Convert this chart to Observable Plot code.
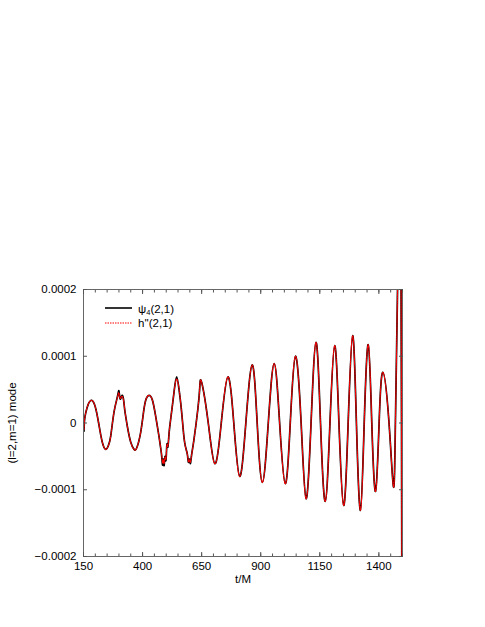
<!DOCTYPE html>
<html>
<head>
<meta charset="utf-8">
<script src="https://cdn.jsdelivr.net/npm/d3@7"></script>
<script src="https://cdn.jsdelivr.net/npm/@observablehq/plot@0.6"></script>
<style>
  html, body { margin: 0; padding: 0; background: #fff; }
  #wrap { position: relative; width: 485px; height: 627px; font-family: "Liberation Sans", Arial, Helvetica, sans-serif; }
  #legend { position: absolute; left: 0; top: 0; pointer-events: none; }
</style>
</head>
<body>
<div id="wrap">
  <div id="chart"></div>
  <svg id="legend" width="485" height="627" font-family="Liberation Sans, Arial, sans-serif" font-size="11.5">
    <line x1="105" x2="132" y1="308" y2="308" stroke="#000" stroke-width="1.6"></line>
    <text x="138" y="312.5">ψ<tspan font-size="7.5" dy="2">4</tspan><tspan dy="-2">(2,1)</tspan></text>
    <line x1="105" x2="132" y1="323" y2="323" stroke="#ff0000" stroke-width="1.1" stroke-dasharray="1.5,1"></line>
    <text x="138" y="327">h''(2,1)</text>
  </svg>
</div>
<script>
// time t/M
const t = [150, 152, 154, 160, 170, 185, 200, 214, 229, 244, 255, 265, 279, 294, 300, 305, 312, 319, 324, 329,
  336, 350, 364, 375, 392, 406, 416, 427, 441, 455,
  469, 476, 481, 485, 488, 491, 495, 499, 503, 507, 512, 519,
  533, 544, 554, 561, 568, 578, 589, 594, 598, 602, 607, 617, 634, 642, 650,
  678, 706, 733, 761, 786, 811, 837, 864, 885, 907, 932, 957, 980, 1004, 1025, 1047, 1071, 1092, 1113, 1134,
  1153, 1173, 1193, 1213, 1231, 1251, 1270, 1289, 1305, 1322, 1338, 1355, 1370, 1386, 1401, 1417, 1443, 1462, 1470, 1479,
  1487, 1494, 1497, 1500];
// psi_4 (2,1) mode
const psi4 = [-0.3e-5, -1.2e-5, 0.3e-5, 1.6e-5, 2.8e-5, 3.4e-5, 2.4e-5, 0, -2.8e-5, -3.95e-5, -3.4e-5, -2.0e-5, 1.6e-5, 4.0e-5, 4.8e-5, 3.6e-5, 4.1e-5, 3.6e-5, 2.1e-5, 0.9e-5,
  -0.6e-5, -2.9e-5, -3.95e-5, -3.75e-5, -1.4e-5, 2.1e-5, 3.7e-5, 4.15e-5, 3.5e-5, 1.1e-5,
  -1.9e-5, -3.6e-5, -5.0e-5, -6.3e-5, -5.4e-5, -6.4e-5, -5.0e-5, -5.6e-5, -3.2e-5, -3.6e-5, -1.6e-5, 0.6e-5,
  4.6e-5, 6.9e-5, 5.1e-5, 3.1e-5, 0.6e-5, -2.9e-5, -4.6e-5, -5.9e-5, -5.4e-5, -6.1e-5, -4.9e-5, -2.6e-5, 2.1e-5, 5.3e-5, 6.1e-5,
  0, -6.1e-5, 0, 6.9e-5, 0, -8.0e-5, 0, 8.7e-5, 0, -8.9e-5, 0, 8.9e-5, 0, -9.1e-5, 0, 10.0e-5, 0, -11.35e-5, 0, 12.1e-5,
  0, -11.75e-5, 0, 11.6e-5, 0, -12.35e-5, 0, 13.1e-5, 0, -13.1e-5, 0, 11.75e-5, 0, -10.25e-5, 0, 7.6e-5, 0, -9.6e-5, 0, 20e-5,
  35e-5, 20e-5, -20e-5, -40e-5];
// h'' (2,1) mode
const hdd = [-0.3e-5, -1.0e-5, 0.3e-5, 1.6e-5, 2.8e-5, 3.4e-5, 2.4e-5, 0, -2.8e-5, -3.95e-5, -3.4e-5, -2.0e-5, 1.6e-5, 3.9e-5, 4.5e-5, 3.7e-5, 4.0e-5, 3.5e-5, 2.2e-5, 0.9e-5,
  -0.6e-5, -2.9e-5, -3.95e-5, -3.75e-5, -1.4e-5, 2.1e-5, 3.7e-5, 4.15e-5, 3.5e-5, 1.1e-5,
  -1.9e-5, -3.6e-5, -4.9e-5, -6.0e-5, -5.5e-5, -6.1e-5, -5.1e-5, -5.4e-5, -3.3e-5, -3.5e-5, -1.6e-5, 0.6e-5,
  4.6e-5, 6.6e-5, 5.2e-5, 3.1e-5, 0.6e-5, -2.9e-5, -4.6e-5, -5.8e-5, -5.5e-5, -5.9e-5, -4.9e-5, -2.6e-5, 2.1e-5, 5.3e-5, 6.1e-5,
  0, -6.1e-5, 0, 6.9e-5, 0, -8.0e-5, 0, 8.7e-5, 0, -8.9e-5, 0, 8.9e-5, 0, -9.1e-5, 0, 10.0e-5, 0, -11.35e-5, 0, 12.1e-5,
  0, -11.75e-5, 0, 11.6e-5, 0, -12.35e-5, 0, 13.1e-5, 0, -13.1e-5, 0, 11.75e-5, 0, -10.25e-5, 0, 7.6e-5, 0, -9.6e-5, 0, 20e-5,
  35e-5, 20e-5, -20e-5, -40e-5];

const xTicks = [150, 400, 650, 900, 1150, 1400];
const xMinorTicks = [150, 200, 250, 300, 350, 400, 450, 500, 550, 600, 650, 700, 750, 800, 850, 900, 950, 1000,
  1050, 1100, 1150, 1200, 1250, 1300, 1350, 1400, 1450, 1500];
const yTicks = [-0.0002, -0.0001, 0, 0.0001, 0.0002];
const yTickLabels = ["−0.0002", "−0.0001", "0", "0.0001", "0.0002"];

const rows = t.map((tt, i) => ({t: tt, psi: psi4[i], h: hdd[i]}));
const tickColor = "#555";

const chart = Plot.plot({
  width: 485,
  height: 627,
  marginTop: 289,
  marginBottom: 71,
  marginLeft: 83,
  marginRight: 83,
  style: {fontFamily: '"Liberation Sans", Arial, Helvetica, sans-serif', fontSize: "11.5px", color: "#000", background: "#fff"},
  x: {domain: [150, 1500]},
  y: {domain: [-0.0002, 0.0002]},
  marks: [
    Plot.line(rows, {x: "t", y: "psi", stroke: "#000", strokeWidth: 1.7, curve: "natural", clip: true}),
    Plot.line(rows, {x: "t", y: "h", stroke: "#ff0000", strokeWidth: 1.1, strokeDasharray: "1.5,1", curve: "natural", clip: true}),
    Plot.frame({stroke: "#666"}),
    Plot.axisX(xMinorTicks, {anchor: "bottom", tickSize: -2.5, tickFormat: () => "", label: null, stroke: tickColor}),
    Plot.axisX(xMinorTicks, {anchor: "top", tickSize: -2.5, tickFormat: () => "", label: null, stroke: tickColor}),
    Plot.axisX(xTicks, {anchor: "top", tickSize: -4, tickFormat: () => "", label: null, stroke: tickColor}),
    Plot.axisX(xTicks, {anchor: "bottom", tickSize: -4, tickPadding: 9, tickFormat: d => String(d),
      label: "t/M", labelAnchor: "center", labelArrow: "none", labelOffset: 26, stroke: tickColor}),
    Plot.axisY(yTicks, {anchor: "right", tickSize: -4, tickFormat: () => "", label: null, stroke: tickColor}),
    Plot.axisY(yTicks, {anchor: "left", tickSize: -4, tickPadding: 11, tickFormat: d => yTickLabels[yTicks.indexOf(d)],
      label: "(l=2,m=1) mode", labelAnchor: "center", labelArrow: "none", labelOffset: 76, stroke: tickColor})
  ]
});
document.getElementById("chart").appendChild(chart);
</script>
</body>
</html>
